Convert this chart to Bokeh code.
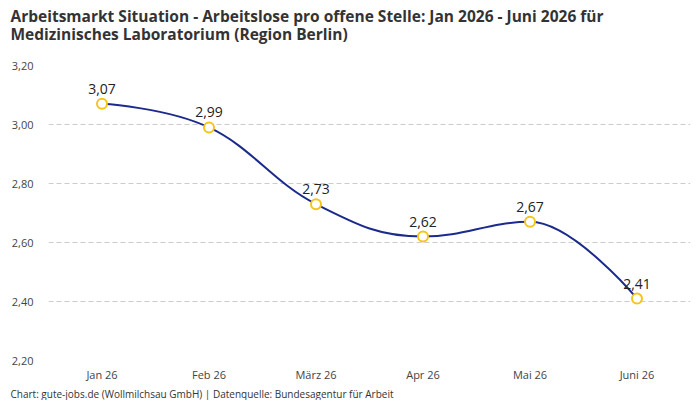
from bokeh.plotting import figure
from bokeh.models import (Range1d, FixedTicker, CustomJSTickFormatter, ColumnDataSource,
                          LabelSet, Title, LinearAxis)
from bokeh.core.properties import value
from bokeh.embed import file_html
from bokeh.resources import INLINE

# Monthly values: unemployed per open position
months = ["Jan 26", "Feb 26", "März 26", "Apr 26", "Mai 26", "Juni 26"]
values = [3.07, 2.99, 2.73, 2.62, 2.67, 2.41]
y_ticks = [2.2, 2.4, 2.6, 2.8, 3.0, 3.2]

title_text = ("Arbeitsmarkt Situation - Arbeitslose pro offene Stelle: Jan 2026 - Juni 2026 für\n"
              "Medizinisches Laboratorium (Region Berlin)")
footer_text = "Chart: gute-jobs.de (Wollmilchsau GmbH) | Datenquelle: Bundesagentur für Arbeit"

LINE_COLOR = "#1b2a8c"
MARKER_COLOR = "#f5c518"
FONT = "Open Sans"

xs = list(range(len(values)))


def spline_segments(x, y, smoothing=1.5):
    """Cubic bezier control points of a smoothed line through (x, y)."""
    denom = smoothing + 1
    n = len(x)
    left = [(x[i], y[i]) for i in range(n)]
    right = [(x[i], y[i]) for i in range(n)]
    for i in range(1, n - 1):
        px, py = x[i], y[i]
        lx, ly = x[i - 1], y[i - 1]
        nx, ny = x[i + 1], y[i + 1]
        lcx = (smoothing * px + lx) / denom
        lcy = (smoothing * py + ly) / denom
        rcx = (smoothing * px + nx) / denom
        rcy = (smoothing * py + ny) / denom
        corr = 0.0
        if rcx != lcx:
            corr = (rcy - lcy) * (rcx - px) / (rcx - lcx) + py - rcy
        lcy += corr
        rcy += corr
        if lcy > ly and lcy > py:
            lcy = max(ly, py)
            rcy = 2 * py - lcy
        elif lcy < ly and lcy < py:
            lcy = min(ly, py)
            rcy = 2 * py - lcy
        if rcy > ny and rcy > py:
            rcy = max(ny, py)
            lcy = 2 * py - rcy
        elif rcy < ny and rcy < py:
            rcy = min(ny, py)
            lcy = 2 * py - rcy
        left[i] = (lcx, lcy)
        right[i] = (rcx, rcy)
    seg = dict(x0=[], y0=[], x1=[], y1=[], cx0=[], cy0=[], cx1=[], cy1=[])
    for i in range(n - 1):
        seg["x0"].append(x[i]); seg["y0"].append(y[i])
        seg["x1"].append(x[i + 1]); seg["y1"].append(y[i + 1])
        seg["cx0"].append(right[i][0]); seg["cy0"].append(right[i][1])
        seg["cx1"].append(left[i + 1][0]); seg["cy1"].append(left[i + 1][1])
    return seg


p = figure(width=700, height=400, x_range=Range1d(-0.5, 5.5), y_range=Range1d(2.2, 3.2),
           output_backend="svg", toolbar_location=None, title=None,
           min_border_left=48, min_border_right=10, min_border_top=65, min_border_bottom=0)
p.outline_line_color = None
p.background_fill_color = "white"
p.border_fill_color = "white"

# axes
p.xaxis.ticker = FixedTicker(ticks=xs)
p.xaxis.formatter = CustomJSTickFormatter(args=dict(labels=months),
                                          code="return labels[Math.round(tick)] || '';")
p.yaxis.ticker = FixedTicker(ticks=y_ticks)
p.yaxis.formatter = CustomJSTickFormatter(code="return tick.toFixed(2).replace('.', ',');")
for ax in (p.xaxis, p.yaxis):
    ax.axis_line_color = None
    ax.major_tick_line_color = None
    ax.minor_tick_line_color = None
    ax.major_tick_out = 0
    ax.major_tick_in = 0
    ax.minor_tick_out = 0
    ax.minor_tick_in = 0
    ax.major_label_text_font = FONT
    ax.major_label_text_font_size = "11px"
    ax.major_label_text_color = "#444444"
p.yaxis.major_label_standoff = 15
p.xaxis.major_label_standoff = 6

# blank band between the heading and the plot area
gap = LinearAxis(ticker=FixedTicker(ticks=[0]), formatter=CustomJSTickFormatter(code="return '';"),
                 axis_line_color=None, major_tick_line_color=None, minor_tick_line_color=None,
                 major_tick_out=14, major_tick_in=0, minor_tick_out=0, minor_tick_in=0,
                 major_label_standoff=0, major_label_text_font_size="1px",
                 major_label_text_color=None)
p.add_layout(gap, "above")

heading = Title(text=title_text, align="left", vertical_align="top", offset=-38,
                text_font=FONT, text_font_size="15.5px", text_font_style="bold",
                text_line_height=0.8, text_color="#333333", standoff=9)
p.add_layout(heading, "above")

footer = Title(text=footer_text, align="left", offset=-38, text_font=FONT,
               text_font_size="10px", text_font_style="normal", text_color="#333333",
               standoff=0)
p.add_layout(footer, "below")

p.xgrid.grid_line_color = None
p.ygrid.grid_line_color = "#cccccc"
p.ygrid.grid_line_dash = "5 3"
p.ygrid.grid_line_width = 1

seg = ColumnDataSource(spline_segments(xs, values))
p.bezier(x0="x0", y0="y0", x1="x1", y1="y1", cx0="cx0", cy0="cy0", cx1="cx1", cy1="cy1",
         source=seg, line_color=LINE_COLOR, line_width=2)

src = ColumnDataSource(dict(x=xs, y=values, label=[f"{v:.2f}".replace(".", ",") for v in values]))
p.scatter("x", "y", source=src, size=10, marker="circle", fill_color="white",
          line_color=MARKER_COLOR, line_width=2)
labels = LabelSet(x="x", y="y", text="label", source=src, text_align="center",
                  text_baseline="bottom", y_offset=10, text_font=value(FONT),
                  text_font_size=value("14px"), text_font_style=value("normal"),
                  text_color=value("#222222"))
p.add_layout(labels)

open("out.html", "w").write(file_html(p, INLINE))
